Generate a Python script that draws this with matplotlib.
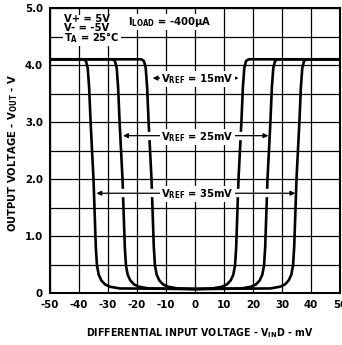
import matplotlib
matplotlib.use("Agg")
import matplotlib.pyplot as plt
from matplotlib import font_manager

# ---- data ----
x_tick_vals = [-50, -40, -30, -20, -10, 0, 10, 20, 30, 40, 50]
x_tick_labels = ["-50", "-40", "-30", "-20", "-10", "0", "10", "20", "30", "40", "50"]
y_tick_vals = [0, 1, 2, 3, 4, 5]
y_tick_labels = ["0", "1.0", "2.0", "3.0", "4.0", "5.0"]

# VREF = 15 mV curve
vin_15 = [-50, -18.5, -17.6, -17.0, -16.5, -16.0, -15.5, -15.0, -14.6, -14.2, -13.8, -13.2, -12.3, -11.0, -9.3, -6.0,
          0.0, 6.0, 9.3, 11.0, 12.3, 13.2, 13.8, 14.2, 14.6, 15.0, 15.5, 16.0, 16.5, 17.0, 17.6, 18.5, 50]
vout_15 = [4.10, 4.10, 4.07, 3.95, 3.60, 3.00, 2.50, 2.00, 1.40, 0.80, 0.48, 0.32, 0.22, 0.15, 0.11, 0.08,
           0.07, 0.08, 0.11, 0.15, 0.22, 0.32, 0.48, 0.80, 1.40, 2.00, 2.50, 3.00, 3.60, 3.95, 4.07, 4.10, 4.10]

# VREF = 25 mV curve
vin_25 = [-50, -28.5, -27.6, -27.0, -26.5, -26.0, -25.5, -25.0, -24.6, -24.2, -23.8, -23.2, -22.3, -21.0, -19.3, -16.0,
          0.0, 16.0, 19.3, 21.0, 22.3, 23.2, 23.8, 24.2, 24.6, 25.0, 25.5, 26.0, 26.5, 27.0, 27.6, 28.5, 50]
vout_25 = [4.10, 4.10, 4.07, 3.95, 3.60, 3.00, 2.50, 2.00, 1.40, 0.80, 0.48, 0.32, 0.22, 0.15, 0.11, 0.08,
           0.07, 0.08, 0.11, 0.15, 0.22, 0.32, 0.48, 0.80, 1.40, 2.00, 2.50, 3.00, 3.60, 3.95, 4.07, 4.10, 4.10]

# VREF = 35 mV curve
vin_35 = [-50, -38.5, -37.6, -37.0, -36.5, -36.0, -35.5, -35.0, -34.6, -34.2, -33.8, -33.2, -32.3, -31.0, -29.3, -26.0,
          0.0, 26.0, 29.3, 31.0, 32.3, 33.2, 33.8, 34.2, 34.6, 35.0, 35.5, 36.0, 36.5, 37.0, 37.6, 38.5, 50]
vout_35 = [4.10, 4.10, 4.07, 3.95, 3.60, 3.00, 2.50, 2.00, 1.40, 0.80, 0.48, 0.32, 0.22, 0.15, 0.11, 0.08,
           0.07, 0.08, 0.11, 0.15, 0.22, 0.32, 0.48, 0.80, 1.40, 2.00, 2.50, 3.00, 3.60, 3.95, 4.07, 4.10, 4.10]

# annotation arrows: (label, y level, left tip, right tip)
vref_names = ["15mV", "25mV", "35mV"]
vref_levels = [3.77, 2.76, 1.75]
vref_left = [-14.6, -24.8, -34.0]
vref_right = [15.0, 25.3, 34.6]


def pick_font():
    for fam, stretch in [("Liberation Sans Narrow", "normal"), ("DejaVu Sans", "condensed")]:
        try:
            fp = font_manager.FontProperties(family=fam, weight="bold", stretch=stretch)
            path = font_manager.findfont(fp, fallback_to_default=False)
            if "Narrow" in path or "Condensed" in path:
                return fam, stretch, True
        except Exception:
            pass
    return "Liberation Sans", "normal", False


FAM, STRETCH, NARROW = pick_font()
plt.rcParams["font.family"] = [FAM, "DejaVu Sans"]
plt.rcParams["font.stretch"] = STRETCH
plt.rcParams["mathtext.fontset"] = "custom"
plt.rcParams["mathtext.rm"] = FAM + ":bold"
plt.rcParams["mathtext.default"] = "rm"

SCALE = 1.0 if NARROW else 0.85
FS_TICK = 8.2 * SCALE
FS_TXT = 8.0 * SCALE

fig = plt.figure(figsize=(3.42, 3.45), dpi=100)
ax = fig.add_axes([50 / 342, 1 - 293 / 345, 290 / 342, 285 / 345])
ax.set_xlim(-50, 50)
ax.set_ylim(0, 5)

# grid
for xv in x_tick_vals:
    ax.axvline(xv, color="black", lw=0.9, zorder=4)
for k in range(11):
    ax.axhline(k * 0.5, color="black", lw=0.9, zorder=4)

for vx, vy in [(vin_15, vout_15), (vin_25, vout_25), (vin_35, vout_35)]:
    ax.plot(vx, vy, color="black", lw=1.9, zorder=2, solid_capstyle="butt")

# white gaps where the arrows cross curves, then arrows
for name, lev, xl, xr in zip(vref_names, vref_levels, vref_left, vref_right):
    ax.plot([xl + 1.2, xr - 1.2], [lev, lev], color="white", lw=6, zorder=3, solid_capstyle="butt")
    ax.text(0.8, lev - 0.02, r"V$_{\mathregular{REF}}$ = " + name, ha="center", va="center", fontsize=FS_TXT,
            fontweight="bold", zorder=7, bbox=dict(facecolor="white", edgecolor="none", pad=0.8))
    for tip in (xl, xr):
        ax.annotate("", xy=(tip, lev), xytext=(0, lev), zorder=5,
                    arrowprops=dict(arrowstyle="-|>", color="black", lw=0.9, mutation_scale=7,
                                    shrinkA=0, shrinkB=0))

ax.text(-45.2, 4.62, "V+ = 5V\nV- = -5V\nT$_A$ = 25°C", ha="left", va="center", fontsize=FS_TXT,
        fontweight="bold", linespacing=0.8, zorder=7, bbox=dict(facecolor="white", edgecolor="none", pad=1.0))
ax.text(-23.0, 4.75, r"I$_{\mathregular{LOAD}}$ = -400µA", ha="left", va="center", fontsize=FS_TXT,
        fontweight="bold", zorder=7, bbox=dict(facecolor="white", edgecolor="none", pad=0.6))

ax.set_xticks(x_tick_vals)
ax.set_xticklabels(x_tick_labels)
ax.set_yticks(y_tick_vals)
ax.set_yticklabels(y_tick_labels)
ax.tick_params(length=0, pad=5, labelsize=FS_TICK)
for lab in ax.get_xticklabels() + ax.get_yticklabels():
    lab.set_fontweight("bold")
for s in ax.spines.values():
    s.set_linewidth(1.5)
    s.set_zorder(8)

ax.set_xlabel(r"DIFFERENTIAL INPUT VOLTAGE - V$_{\mathregular{IN}}$D - mV", fontsize=FS_TXT * 0.95,
              fontweight="bold")
ax.xaxis.set_label_coords(0.517, -0.115)
ax.set_ylabel(r"OUTPUT VOLTAGE - V$_{\mathregular{OUT}}$ - V", fontsize=FS_TXT * 1.0, fontweight="bold")
ax.yaxis.set_label_coords(-0.103, 0.49)

fig.savefig("out.png", dpi=100)
